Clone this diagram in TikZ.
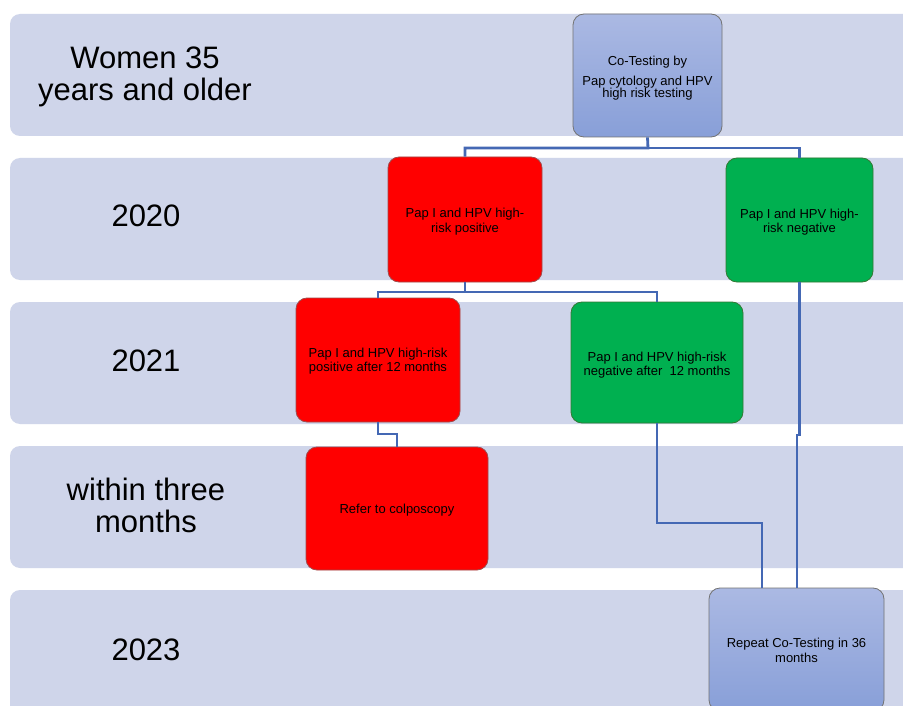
\documentclass[tikz,border=0pt]{standalone}
\usepackage{fontspec}
\setmainfont{Liberation Sans}
\definecolor{bandcol}{HTML}{CFD5EA}
\definecolor{redfill}{HTML}{FF0000}
\definecolor{greenfill}{HTML}{00B050}
\definecolor{linkcol}{HTML}{4468B4}
\definecolor{bluetop}{HTML}{ABB9E3}
\definecolor{bluebot}{HTML}{889FD8}
\newcommand\padtop[1]{\rule{0pt}{#1}}
\begin{document}
\begin{tikzpicture}[x=1pt,y=-1pt,
  bandbox/.style={fill=bandcol, rounded corners=10pt},
  lbl/.style={font=\fontsize{31}{32}\selectfont, align=center, text=black},
  stepbox/.style={rounded corners=11pt, line width=0.8pt,
    font=\fontsize{13}{14.5}\selectfont, align=center, inner sep=0pt, text=black},
  redstep/.style={stepbox, fill=redfill, draw=red!45!black!70},
  greenstep/.style={stepbox, fill=greenfill, draw=black!55!green!60!gray},
  bluestep/.style={stepbox, top color=bluetop, bottom color=bluebot, draw=black!55},
  link/.style={draw=linkcol, line width=2.8pt}
]
\useasboundingbox (0,0) rectangle (903,706);
\clip (0,0) rectangle (903,706);
\fill[white] (0,0) rectangle (903,706);
% bands
\fill[bandbox] (10,14) rectangle (930,136);
\fill[bandbox] (10,158) rectangle (930,280);
\fill[bandbox] (10,302) rectangle (930,424);
\fill[bandbox] (10,446) rectangle (930,568);
\fill[bandbox] (10,590) rectangle (930,730);
% labels
\node[lbl] (l1) at (145,77) {Women 35\\years and older};
\node[lbl] (l2) at (146,216) {2020};
\node[lbl] (l3) at (146,361) {2021};
\node[lbl] (l4) at (146,505) {within three\\months};
\node[lbl] (l5) at (146,650) {2023};
% boxes
\node[bluestep, minimum width=149pt, minimum height=123pt] (cot) at (647.5,75.5)
  {\padtop{15.5pt}Co-Testing by\\[5pt]Pap cytology and HPV\\[-2pt] high risk testing};
\node[redstep, minimum width=154pt, minimum height=125pt] (r1) at (465,219.5)
  {\padtop{13.5pt}Pap I and HPV high-\\risk positive};
\node[greenstep, minimum width=147pt, minimum height=124pt] (g1) at (799.5,220)
  {\padtop{13.5pt}Pap I and HPV high-\\risk negative};
\node[redstep, minimum width=164pt, minimum height=124pt] (r2) at (378,360)
  {\padtop{11.5pt}Pap I and HPV high-risk\\positive after 12 months};
\node[greenstep, minimum width=172pt, minimum height=121pt] (g2) at (657,362.5)
  {\padtop{15pt}Pap I and HPV high-risk\\negative after\ \ 12 months};
\node[redstep, minimum width=182pt, minimum height=123pt] (rf) at (397,508.5)
  {\padtop{13.5pt}Refer to colposcopy};
\node[bluestep, minimum width=175pt, minimum height=123pt] (rp) at (796.5,649.5)
  {\padtop{11.5pt}Repeat Co-Testing in 36\\months};
% connector bends
\coordinate (c1) at (648,148);
\coordinate (c2) at (465,292);
\coordinate (c3) at (378,434);
\coordinate (c4) at (657,523);
\coordinate (c5) at (799.5,435);
\coordinate (c6) at (797,435);
\coordinate (c7) at (762,588);
\coordinate (c8) at (797,588);
% connectors
\draw[link] (cot.south) -- (c1) -| (r1.north);
\draw[link] (c1) -| (g1.north);
\draw[link] (r1.south) -- (c2) -| (r2.north);
\draw[link] (c2) -| (g2.north);
\draw[link] (r2.south) -- (c3) -| (rf.north);
\draw[link] (g2.south) -- (c4) -| (c7);
\draw[link] (g1.south) -- (c5) -- (c6) -- (c8);
\end{tikzpicture}
\end{document}
